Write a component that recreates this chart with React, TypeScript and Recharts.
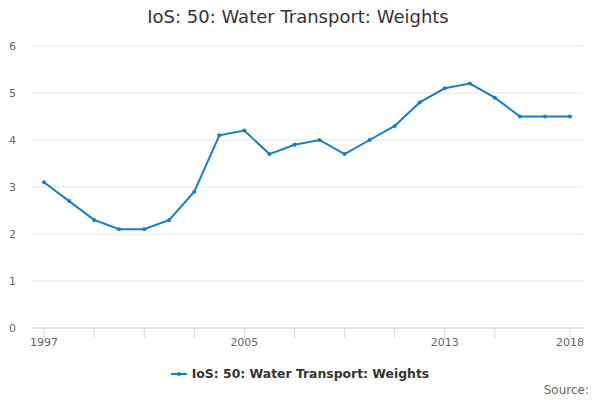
import React from "react";
import { LineChart, Line, XAxis, YAxis, CartesianGrid, Legend } from "recharts";

const years = [1997, 1998, 1999, 2000, 2001, 2002, 2003, 2004, 2005, 2006, 2007, 2008, 2009, 2010, 2011, 2012, 2013, 2014, 2015, 2016, 2017, 2018];
const weights = [3.1, 2.7, 2.3, 2.1, 2.1, 2.3, 2.9, 4.1, 4.2, 3.7, 3.9, 4.0, 3.7, 4.0, 4.3, 4.8, 5.1, 5.2, 4.9, 4.5, 4.5, 4.5];
const xTicks = [1997, 1999, 2001, 2003, 2005, 2007, 2009, 2011, 2013, 2015, 2018];
const xLabels = [1997, 2005, 2013, 2018];
const yTicks = [0, 1, 2, 3, 4, 5, 6];

const seriesName = "IoS: 50: Water Transport: Weights";
const title = "IoS: 50: Water Transport: Weights";
const color = "#1a7dc4";
const font = "'DejaVu Sans', sans-serif";

const data = years.map((y, i) => ({ year: y, value: weights[i] }));

const XTick = (props: any) => {
  const { x, y, payload } = props;
  if (!xLabels.includes(payload.value)) return null;
  return (
    <text x={x} y={y} dy="0.71em" textAnchor="middle" fill="#666" fontSize={11} fontFamily={font}>
      {payload.value}
    </text>
  );
};

const LegendContent = () => (
  <div style={{ display: "flex", justifyContent: "center", alignItems: "center", fontFamily: font }}>
    <svg width={16} height={10} style={{ marginRight: 5 }}>
      <line x1={0} y1={5} x2={16} y2={5} stroke={color} strokeWidth={2} />
      <circle cx={8} cy={5} r={2} fill={color} />
    </svg>
    <span style={{ fontSize: 12.4, fontWeight: "bold", color: "#333" }}>{seriesName}</span>
  </div>
);

export default function App() {
  return (
    <div style={{ position: "absolute", left: 0, top: 0, width: 600, height: 400, fontFamily: font }}>
      <div style={{ position: "absolute", top: 6, left: 0, width: 596, textAlign: "center", fontSize: 18, color: "#333" }}>
        {title}
      </div>
      <LineChart width={600} height={400} data={data} margin={{ top: 46, right: 17, bottom: 42, left: 0 }}>
        <CartesianGrid vertical={false} stroke="#e6e6e6" />
        <XAxis
          dataKey="year"
          type="number"
          domain={[1997, 2018]}
          ticks={xTicks}
          interval={0}
          padding={{ left: 12, right: 13 }}
          height={30}
          tickSize={10}
          tickMargin={0}
          stroke="#ccd6eb"
          tickLine={{ stroke: "#ccd6eb" }}
          tick={<XTick />}
        />
        <YAxis
          domain={[0, 6]}
          ticks={yTicks}
          width={32}
          axisLine={false}
          tickLine={false}
          tickSize={0}
          tickMargin={16}
          tick={{ fill: "#666", fontSize: 11, fontFamily: font }}
        />
        <Legend
          verticalAlign="middle"
          align="center"
          layout="horizontal"
          content={<LegendContent />}
          wrapperStyle={{ position: "absolute", top: 366, left: 0, width: 600 }}
        />
        <Line
          type="linear"
          dataKey="value"
          name={seriesName}
          stroke={color}
          strokeWidth={2}
          dot={{ r: 2, fill: color, stroke: color, strokeWidth: 0 }}
          isAnimationActive={false}
        />
      </LineChart>
      <div style={{ position: "absolute", top: 383, right: 11, fontSize: 12, color: "#666" }}>Source:</div>
    </div>
  );
}
